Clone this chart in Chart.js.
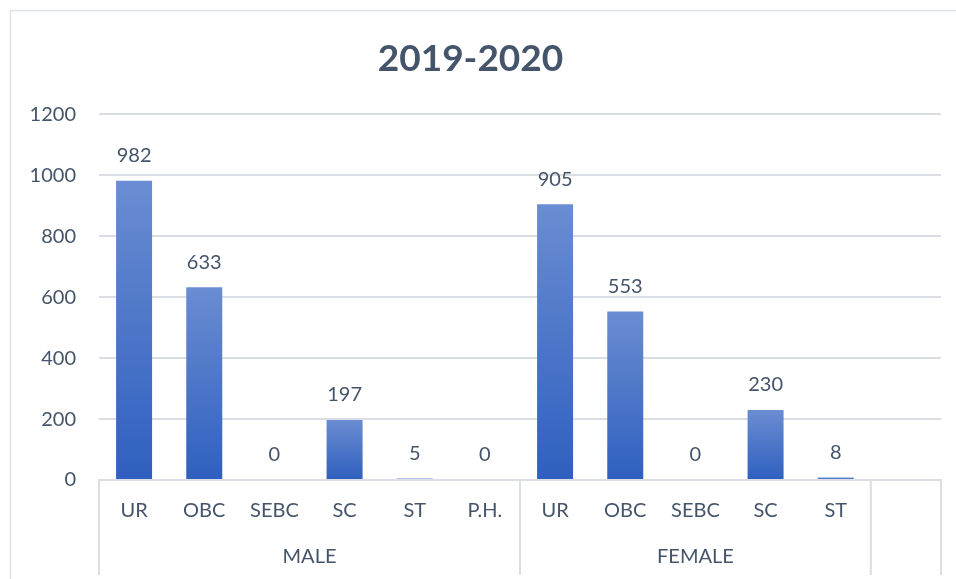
<!DOCTYPE html>
<html>
<head>
<meta charset="utf-8">
<title>2019-2020</title>
<script src="https://cdn.jsdelivr.net/npm/chart.js@4/dist/chart.umd.min.js"></script>
<style>
  body { margin: 0; background: #fff; }
  canvas { display: block; }
</style>
</head>
<body>
<canvas id="chart" width="956" height="579"></canvas>
<script>
// categories on the axis (last slot is empty in the original)
const categories = ['UR', 'OBC', 'SEBC', 'SC', 'ST', 'P.H.', 'UR', 'OBC', 'SEBC', 'SC', 'ST', ''];

// number of students per category
const values = [982, 633, 0, 197, 5, 0, 905, 553, 0, 230, 8, null];

// second row of the axis: group name, first and last category index
const groupNames = ['MALE', 'FEMALE', ''];
const groupStarts = [0, 6, 11];
const groupEnds = [5, 10, 11];

// y axis ticks
const yTicks = [0, 200, 400, 600, 800, 1000, 1200];

const textColor = '#44546A';
const lineColor = '#dadee4';
const fontName = 'Lato';

// gradient for each bar, lighter on top
const barFill = (context) => {
    const chart = context.chart;
    const v = context.raw;
    if (!chart.chartArea || !v) return '#4472C4';
    const y = chart.scales.y;
    const top = y.getPixelForValue(v);
    const bottom = y.getPixelForValue(0);
    const g = chart.ctx.createLinearGradient(0, top, 0, bottom);
    g.addColorStop(0, '#6a8dd2');
    g.addColorStop(1, '#2f5fbf');
    return g;
};

// white background and outer frame
const framePlugin = {
    id: 'frame',
    beforeDraw(chart) {
        const ctx = chart.ctx;
        ctx.save();
        ctx.fillStyle = '#fff';
        ctx.fillRect(0, 0, chart.width, chart.height);
        ctx.strokeStyle = '#dfe2e8';
        ctx.lineWidth = 1.5;
        ctx.strokeRect(10.5, 10.5, chart.width + 20, chart.height + 20);
        ctx.restore();
    }
};

// value above each bar
const labelPlugin = {
    id: 'valueLabels',
    afterDatasetsDraw(chart) {
        const ctx = chart.ctx;
        const meta = chart.getDatasetMeta(0);
        ctx.save();
        ctx.font = '20px ' + fontName;
        ctx.fillStyle = textColor;
        ctx.textAlign = 'center';
        ctx.textBaseline = 'middle';
        meta.data.forEach((bar, i) => {
            if (values[i] === null) return;
            ctx.fillText(String(values[i]), bar.x, bar.y - 25);
        });
        ctx.restore();
    }
};

// group row and separators under the category labels
const groupPlugin = {
    id: 'groups',
    afterDraw(chart) {
        const ctx = chart.ctx;
        const area = chart.chartArea;
        const step = (area.right - area.left) / categories.length;
        const edge = (i) => area.left + i * step;

        ctx.save();
        ctx.strokeStyle = lineColor;
        ctx.lineWidth = 2;
        ctx.beginPath();
        groupStarts.forEach(s => {
            ctx.moveTo(edge(s), area.bottom);
            ctx.lineTo(edge(s), area.bottom + 95);
        });
        ctx.moveTo(area.right, area.bottom);
        ctx.lineTo(area.right, area.bottom + 95);
        ctx.stroke();

        ctx.font = '20px ' + fontName;
        ctx.fillStyle = textColor;
        ctx.textAlign = 'center';
        ctx.textBaseline = 'middle';
        groupNames.forEach((name, i) => {
            const mid = (edge(groupStarts[i]) + edge(groupEnds[i] + 1)) / 2;
            ctx.fillText(name, mid, area.bottom + 77);
        });
        ctx.restore();
    }
};

const data = {
    labels: categories,
    datasets: [{
        data: values,
        backgroundColor: barFill,
        borderWidth: 0,
        categoryPercentage: 0.9,
        barPercentage: 0.57
    }]
};

let chart = new Chart(document.getElementById('chart'), {
    type: 'bar',
    data: data,
    plugins: [framePlugin, labelPlugin, groupPlugin],
    options: {
        responsive: false,
        animation: false,
        layout: {
            padding: { left: 0, right: 15, top: 0, bottom: 0 }
        },
        plugins: {
            legend: { display: false },
            tooltip: { enabled: false },
            title: {
                display: true,
                text: '2019-2020',
                color: textColor,
                font: { family: fontName, size: 37, weight: 'bold' },
                padding: { top: 37, bottom: 33 }
            }
        },
        scales: {
            x: {
                afterFit: (scale) => { scale.height = 99; },
                grid: { display: false, drawTicks: false },
                border: { display: true, color: lineColor, width: 2 },
                ticks: {
                    color: textColor,
                    font: { family: fontName, size: 20 },
                    padding: 19,
                    maxRotation: 0,
                    autoSkip: false
                }
            },
            y: {
                min: 0,
                max: 1200,
                afterFit: (scale) => { scale.width = 99; },
                afterBuildTicks: (scale) => {
                    scale.ticks = yTicks.map(v => ({ value: v }));
                },
                grid: { color: lineColor, lineWidth: 2, drawTicks: false },
                border: { display: false },
                ticks: {
                    color: textColor,
                    font: { family: fontName, size: 20 },
                    padding: 23,
                    // plain numbers, no thousands separator
                    callback: (value) => String(value)
                }
            }
        }
    }
});
</script>
</body>
</html>
